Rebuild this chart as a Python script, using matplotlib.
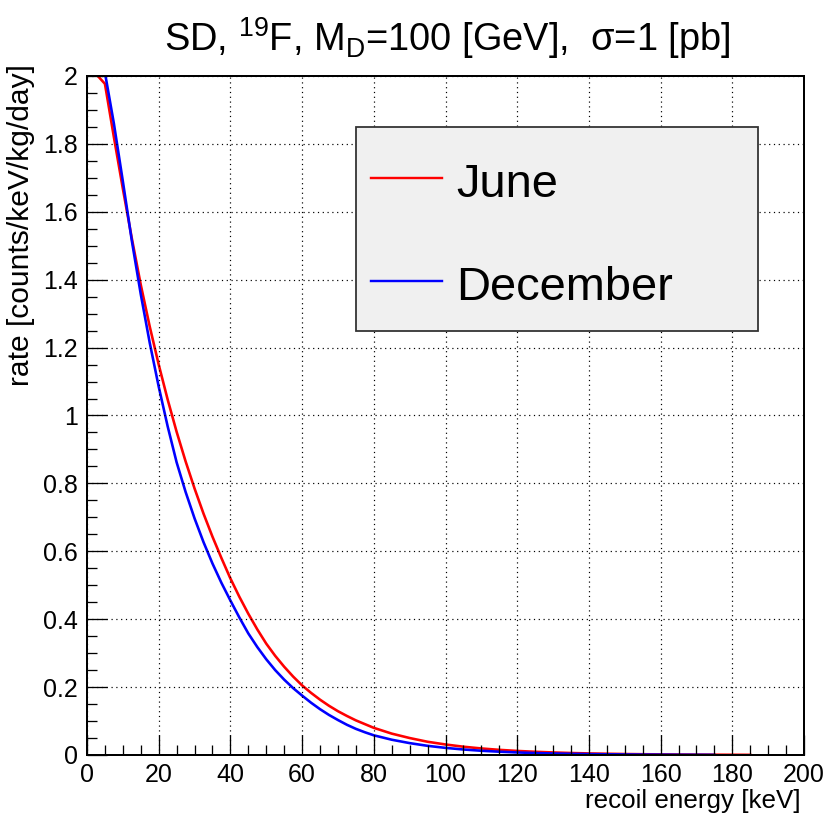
import matplotlib
matplotlib.use("Agg")
import matplotlib.pyplot as plt
from matplotlib.ticker import MultipleLocator, FuncFormatter
from matplotlib.patches import Rectangle
from matplotlib.lines import Line2D

# ---------------- data ----------------
energy_june = [0, 5, 7.5, 10, 12.5, 15, 17.5, 20, 22.5, 25, 27.5, 30, 32.5, 35, 37.5,
               40, 42.5, 45, 47.5, 50, 52.5, 55, 57.5, 60, 62.5, 65, 67.5, 70, 72.5,
               75, 77.5, 80, 85, 90, 95, 100, 105, 110, 115, 120, 125, 130, 135, 140,
               145, 150, 155, 160, 165, 170, 175, 180, 185]
rate_june = [2.035, 1.977, 1.82, 1.668, 1.522, 1.385, 1.262, 1.150, 1.047, 0.952,
             0.865, 0.785, 0.711, 0.643, 0.580, 0.520, 0.466, 0.416, 0.370, 0.328,
             0.292, 0.260, 0.231, 0.205, 0.183, 0.163, 0.145, 0.129, 0.115, 0.102,
             0.091, 0.080, 0.063, 0.050, 0.039, 0.031, 0.0244, 0.0193, 0.0152,
             0.012, 0.0095, 0.0075, 0.0059, 0.0046, 0.0037, 0.0029, 0.0023, 0.0018,
             0.0014, 0.0011, 0.0009, 0.0007, 0.0005]

energy_dec = [0, 5, 7.5, 10, 12.5, 15, 17.5, 20, 22.5, 25, 27.5, 30, 32.5, 35, 37.5,
              40, 42.5, 45, 47.5, 50, 52.5, 55, 57.5, 60, 62.5, 65, 67.5, 70, 72.5,
              75, 77.5, 80, 85, 90, 95, 100, 105, 110, 115, 120, 125, 130, 135, 140,
              145, 150, 155, 160, 165, 170, 175]
rate_dec = [2.06, 2.01, 1.86, 1.69, 1.515, 1.357, 1.214, 1.085, 0.968, 0.862,
            0.775, 0.697, 0.627, 0.564, 0.507, 0.455, 0.405, 0.358, 0.318, 0.282,
            0.250, 0.222, 0.197, 0.175, 0.154, 0.135, 0.118, 0.103, 0.089, 0.077,
            0.067, 0.058, 0.045, 0.035, 0.027, 0.021, 0.0162, 0.0125, 0.0097,
            0.0075, 0.0058, 0.0045, 0.0035, 0.0027, 0.0021, 0.0016, 0.0012, 0.0010,
            0.0007, 0.0006, 0.0004]

series_labels = ["June", "December"]
series_colors = ["#ff0000", "#0000ff"]

title_text = r"SD, $^{19}$F, M$_{\mathrm{D}}$=100 [GeV],  σ=1 [pb]"
xlabel_text = "recoil energy [keV]"
ylabel_text = "rate [counts/keV/kg/day]"

# ---------------- style ----------------
FONT = "Liberation Sans"
plt.rcParams["font.family"] = [FONT, "DejaVu Sans"]
plt.rcParams["mathtext.fontset"] = "custom"
plt.rcParams["mathtext.rm"] = FONT
plt.rcParams["mathtext.it"] = FONT + ":italic"
plt.rcParams["mathtext.bf"] = FONT + ":bold"

W, H = 827, 819
DPI = 100
fig = plt.figure(figsize=(W / DPI, H / DPI), dpi=DPI)
fig.patch.set_facecolor("white")

def px(v):
    return v * 72.0 / DPI  # pixels -> points

# axes box in pixels
L, R_, T, B = 87, 804, 76, 755
ax = fig.add_axes([L / W, (H - B) / H, (R_ - L) / W, (B - T) / H])

for xs, ys, c in [(energy_june, rate_june, series_colors[0]),
                  (energy_dec, rate_dec, series_colors[1])]:
    ax.plot(xs, ys, color=c, linewidth=px(2.6), solid_joinstyle="round")

ax.set_xlim(0, 200)
ax.set_ylim(0, 2)

ax.xaxis.set_major_locator(MultipleLocator(20))
ax.xaxis.set_minor_locator(MultipleLocator(5))
ax.yaxis.set_major_locator(MultipleLocator(0.2))
ax.yaxis.set_minor_locator(MultipleLocator(0.05))
fmt = FuncFormatter(lambda v, p: "%g" % round(v, 6))
ax.xaxis.set_major_formatter(fmt)
ax.yaxis.set_major_formatter(fmt)

ax.tick_params(which="both", direction="in", top=False, right=False,
               color="black", width=px(1.3))
ax.tick_params(which="major", length=px(20), labelsize=px(25))
ax.tick_params(which="minor", length=px(10))
ax.tick_params(axis="y", which="major", pad=px(9))
ax.tick_params(axis="x", which="major", pad=px(8))

ax.grid(which="major", color="black", linestyle=(0, (1, 3)), linewidth=px(1.2))
ax.set_axisbelow(False)

for s in ax.spines.values():
    s.set_linewidth(px(2.0))
    s.set_color("black")

# title
fig.text(447 / W, 1 - 38 / H, title_text, ha="center", va="center", fontsize=px(38))

# axis labels (ROOT-style: aligned to the end of the axis)
fig.text(801 / W, 1 - 801 / H, xlabel_text, ha="right", va="center", fontsize=px(26))
fig.text(21 / W, 1 - 64 / H, ylabel_text, ha="center", va="top", rotation=90,
         fontsize=px(30))

# legend box
lx0, ly0, lx1, ly1 = 356, 127, 758, 331
rect = Rectangle((lx0 / W, 1 - ly1 / H), (lx1 - lx0) / W, (ly1 - ly0) / H,
                 transform=fig.transFigure, facecolor="#f0f0f0",
                 edgecolor="#333333", linewidth=px(1.8), zorder=5)
fig.add_artist(rect)
entry_y = [178, 281]
for lab, col, yy in zip(series_labels, series_colors, entry_y):
    fig.add_artist(Line2D([371 / W, 442 / W], [1 - yy / H, 1 - yy / H],
                          transform=fig.transFigure, color=col,
                          linewidth=px(2.4), zorder=6))
    fig.text(456 / W, 1 - (yy + 7) / H, lab, ha="left", va="center",
             fontsize=px(47), zorder=6)

fig.savefig("out.png", dpi=DPI, facecolor="white")
